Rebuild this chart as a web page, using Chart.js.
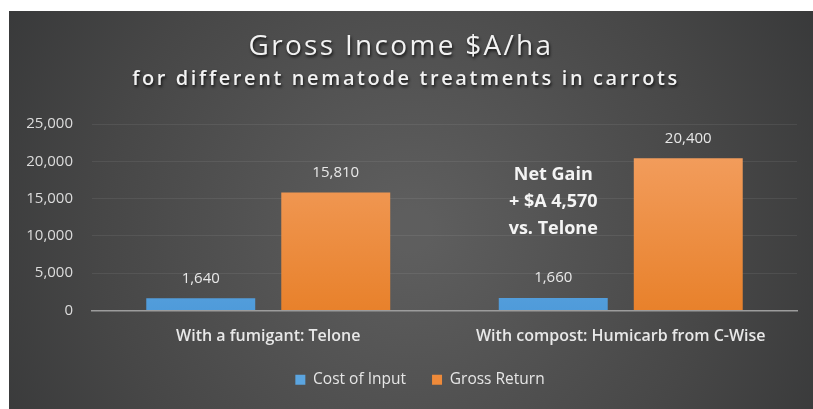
<!DOCTYPE html>
<html><head><meta charset="utf-8">
<script src="https://cdn.jsdelivr.net/npm/chart.js@4.4.0/dist/chart.umd.min.js"></script>
<style>
html,body{margin:0;padding:0;background:#fff;overflow:hidden;}
#wrap{position:absolute;left:9px;top:11px;width:804px;height:398px;}
</style></head><body>
<div id="wrap"><canvas id="c" width="804" height="398"></canvas></div>
<script>
const categories = ['With a fumigant: Telone', 'With compost: Humicarb from C-Wise'];
const seriesNames = ['Cost of Input', 'Gross Return'];
const costOfInput = [1640, 1660];
const grossReturn = [15810, 20400];
const yTickMin = 0, yTickMax = 25000, yTickStep = 5000;
const titleText = 'Gross Income $A/ha';
const subtitleText = 'for different nematode treatments in carrots';
const noteLines = ['Net Gain', '+ $A 4,570', 'vs. Telone'];
const noteValue = 14570;

const FONT = "'Open Sans', 'Noto Sans', sans-serif";
const fmt = v => v.toLocaleString('en-US');

function vGrad(chart, top, bottom) {
  const a = chart.chartArea;
  if (!a) return bottom;
  const g = chart.ctx.createLinearGradient(0, a.top, 0, a.bottom);
  g.addColorStop(0, top);
  g.addColorStop(1, bottom);
  return g;
}

const bgPlugin = {
  id: 'bg',
  beforeDraw(chart) {
    const {ctx, width, height} = chart;
    ctx.save();
    const g = ctx.createRadialGradient(width * 0.5, height * 0.55, 20, width * 0.5, height * 0.55, width * 0.62);
    g.addColorStop(0, '#5e5e5e');
    g.addColorStop(0.6, '#474747');
    g.addColorStop(1, '#353637');
    ctx.fillStyle = g;
    ctx.fillRect(0, 0, width, height);
    ctx.restore();
  }
};

// center the legend under the same point as the original (slightly right of canvas centre)
const legendShift = {
  id: 'legendShift',
  afterLayout(chart) {
    const lg = chart.legend;
    if (lg) { lg.left += 16; lg.right += 16; }
  }
};

const titlePlugin = {
  id: 'customTitle',
  afterDraw(chart) {
    const {ctx} = chart;
    ctx.save();
    ctx.textAlign = 'center';
    ctx.textBaseline = 'alphabetic';
    ctx.shadowColor = 'rgba(0,0,0,0.75)';
    ctx.shadowBlur = 3;
    ctx.shadowOffsetX = 1;
    ctx.shadowOffsetY = 2;
    ctx.fillStyle = '#f2f2f2';
    ctx.letterSpacing = '2.3px';
    ctx.font = "400 28px " + FONT;
    ctx.fillText(titleText, 392, 44);
    ctx.font = "600 20px " + FONT;
    ctx.letterSpacing = '2.6px';
    ctx.fillText(subtitleText, 397, 74);
    ctx.restore();
  }
};

const labelPlugin = {
  id: 'valueLabels',
  afterDatasetsDraw(chart) {
    const {ctx} = chart;
    ctx.save();
    ctx.font = "400 15px " + FONT;
    ctx.fillStyle = '#e8e8e8';
    ctx.textAlign = 'center';
    ctx.textBaseline = 'middle';
    chart.data.datasets.forEach((ds, i) => {
      const meta = chart.getDatasetMeta(i);
      meta.data.forEach((el, j) => {
        ctx.fillText(fmt(ds.data[j]), el.x, el.y - 20);
      });
    });
    // annotation
    const m0 = chart.getDatasetMeta(0);
    const x = m0.data[1].x;
    const yMid = chart.scales.y.getPixelForValue(noteValue);
    ctx.font = "700 18px " + FONT;
    ctx.fillStyle = '#f4f4f4';
    noteLines.forEach((t, k) => ctx.fillText(t, x, yMid + (k - 1) * 27));
    ctx.restore();
  }
};

new Chart(document.getElementById('c'), {
  type: 'bar',
  data: {
    labels: categories,
    datasets: [
      {
        label: seriesNames[0],
        data: costOfInput,
        backgroundColor: ctx => vGrad(ctx.chart, '#7cb9ea', '#4f9bda'),
        borderWidth: 0,
        categoryPercentage: 0.766,
        barPercentage: 0.807
      },
      {
        label: seriesNames[1],
        data: grossReturn,
        backgroundColor: ctx => vGrad(ctx.chart, '#f4a266', '#e8812b'),
        borderWidth: 0,
        categoryPercentage: 0.766,
        barPercentage: 0.807
      }
    ]
  },
  options: {
    responsive: false,
    animation: false,
    devicePixelRatio: 1,
    layout: {padding: {top: 113, left: 2, right: 16, bottom: 11.5}},
    plugins: {
      title: {display: false},
      tooltip: {enabled: false},
      legend: {
        display: true,
        position: 'bottom',
        labels: {
          boxWidth: 10, boxHeight: 10, padding: 26,
          color: '#e6e6e6',
          font: {family: FONT, size: 15.5, weight: '400'},
          generateLabels(chart) {
            const cols = ['#5ba5e0', '#ee8a3a'];
            return chart.data.datasets.map((d, i) => ({
              text: d.label, fillStyle: cols[i], strokeStyle: cols[i], lineWidth: 0, datasetIndex: i, hidden: false, fontColor: '#e6e6e6'
            }));
          }
        }
      }
    },
    scales: {
      x: {
        grid: {display: false, drawTicks: false},
        border: {display: true, color: '#9c9c9c', width: 1.5},
        ticks: {color: '#e8e8e8', padding: 16, font: {family: FONT, size: 16, weight: '600'}},
        afterFit: s => { s.height = 35.5; }
      },
      y: {
        min: yTickMin, max: yTickMax,
        grid: {color: 'rgba(255,255,255,0.07)', drawTicks: false, lineWidth: 1},
        border: {display: false},
        ticks: {
          stepSize: yTickStep, padding: 19, color: '#dcdcdc',
          font: {family: FONT, size: 15},
          callback: v => fmt(v)
        },
        afterFit: s => { s.width = 81; }
      }
    }
  },
  plugins: [bgPlugin, legendShift, titlePlugin, labelPlugin]
});
</script>
</body></html>
